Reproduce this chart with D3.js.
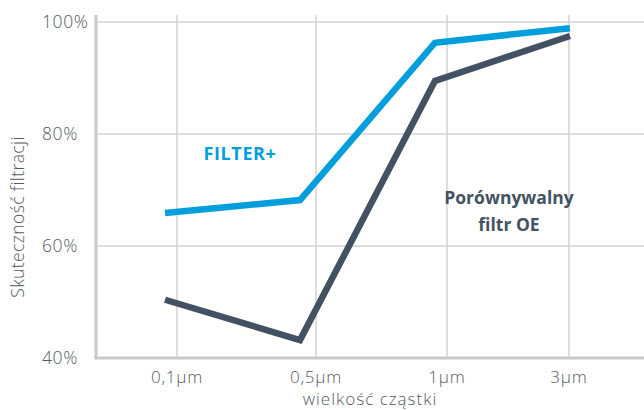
<!DOCTYPE html>
<html>
<head>
<meta charset="utf-8">
<script src="https://cdn.jsdelivr.net/npm/d3@7"></script>
<style>
  body { margin: 0; background: #fff; }
  svg { display: block; }
</style>
</head>
<body>
<svg id="chart" width="644" height="410"></svg>
<script>
// dane
const categories = ["0,1µm", "0,5µm", "1µm", "3µm"];
const filterPlus = [65.9, 68.2, 96.3, 98.9];
const porownywalny = [50.4, 43.2, 89.5, 97.5];
const yTicks = [40, 60, 80, 100];

const plotLeft = 96, plotRight = 644, plotTop = 22, plotBottom = 358;
const labelFont = "Open Sans, sans-serif";
const labelColor = "#555a5e";

const svg = d3.select("#chart");

const y = d3.scaleLinear().domain([40, 100]).range([plotBottom, plotTop]);
// punkty serii
const x = d3.scalePoint().domain(categories).range([165, 570]);
// linie siatki / etykiety osi (nieco inne pozycje niż punkty)
const xGrid = d3.scaleOrdinal().domain(categories).range([177, 316, 447, 569]);

// siatka pozioma
svg.append("g")
  .selectAll("line")
  .data(yTicks.filter(d => d > 40))
  .join("line")
  .attr("x1", plotLeft).attr("x2", plotRight)
  .attr("y1", d => y(d)).attr("y2", d => y(d))
  .attr("stroke", "#d3d3d7").attr("stroke-width", 1.5);

// siatka pionowa
svg.append("g")
  .selectAll("line")
  .data(categories)
  .join("line")
  .attr("x1", d => xGrid(d)).attr("x2", d => xGrid(d))
  .attr("y1", 15).attr("y2", plotBottom)
  .attr("stroke", "#d3d3d7").attr("stroke-width", 1.5);

// osie
svg.append("line")
  .attr("x1", plotLeft).attr("x2", plotLeft).attr("y1", 15).attr("y2", plotBottom + 1)
  .attr("stroke", "#c9c9cd").attr("stroke-width", 3);
svg.append("line")
  .attr("x1", plotLeft - 1.5).attr("x2", plotRight).attr("y1", plotBottom).attr("y2", plotBottom)
  .attr("stroke", "#c9c9cd").attr("stroke-width", 3);

// etykiety osi Y
svg.append("g")
  .selectAll("text")
  .data(yTicks)
  .join("text")
  .attr("x", 42)
  .attr("y", d => y(d))
  .attr("dy", "0.36em")
  .attr("font-family", labelFont)
  .attr("font-size", "17.5px")
  .attr("font-weight", 300)
  .attr("letter-spacing", "0.6px")
  .attr("fill", labelColor)
  .text(d => d + "%");

// etykiety osi X
svg.append("g")
  .selectAll("text")
  .data(categories)
  .join("text")
  .attr("x", d => xGrid(d))
  .attr("y", 377)
  .attr("dy", "0.36em")
  .attr("text-anchor", "middle")
  .attr("font-family", labelFont)
  .attr("font-size", "17px")
  .attr("font-weight", 300)
  .attr("letter-spacing", "0.8px")
  .attr("fill", labelColor)
  .text(d => d);

// tytuły osi
svg.append("text")
  .attr("x", (plotLeft + plotRight) / 2)
  .attr("y", 405)
  .attr("text-anchor", "middle")
  .attr("font-family", labelFont)
  .attr("font-size", "17px")
  .attr("font-weight", 300)
  .attr("letter-spacing", "1px")
  .attr("fill", labelColor)
  .text("wielkość cząstki");

svg.append("text")
  .attr("transform", "translate(18,217) rotate(-90)")
  .attr("dy", "0.36em")
  .attr("text-anchor", "middle")
  .attr("font-family", labelFont)
  .attr("font-size", "17.5px")
  .attr("font-weight", 300)
  .attr("letter-spacing", "0.4px")
  .attr("fill", labelColor)
  .text("Skuteczność filtracji");

// linie serii
const line = d3.line()
  .x((d, i) => x(categories[i]))
  .y(d => y(d));

svg.append("path")
  .datum(porownywalny)
  .attr("d", line)
  .attr("fill", "none")
  .attr("stroke", "#435262")
  .attr("stroke-width", 6.5);

svg.append("path")
  .datum(filterPlus)
  .attr("d", line)
  .attr("fill", "none")
  .attr("stroke", "#009fdc")
  .attr("stroke-width", 6.5);

// podpisy serii
svg.append("text")
  .attr("x", 240).attr("y", 154).attr("dy", "0.36em")
  .attr("text-anchor", "middle")
  .attr("font-family", labelFont)
  .attr("font-weight", "bold")
  .attr("font-size", "18px")
  .attr("letter-spacing", "0.6px")
  .attr("fill", "#009fdc")
  .text("FILTER+");

const oe = svg.append("text")
  .attr("text-anchor", "middle")
  .attr("font-family", labelFont)
  .attr("font-weight", "bold")
  .attr("font-size", "17.5px")
  .attr("fill", "#435262");
oe.append("tspan").attr("x", 509).attr("y", 198).attr("dy", "0.36em").text("Porównywalny");
oe.append("tspan").attr("x", 509).attr("y", 225).attr("dy", "0.36em").text("filtr OE");
</script>
</body>
</html>
